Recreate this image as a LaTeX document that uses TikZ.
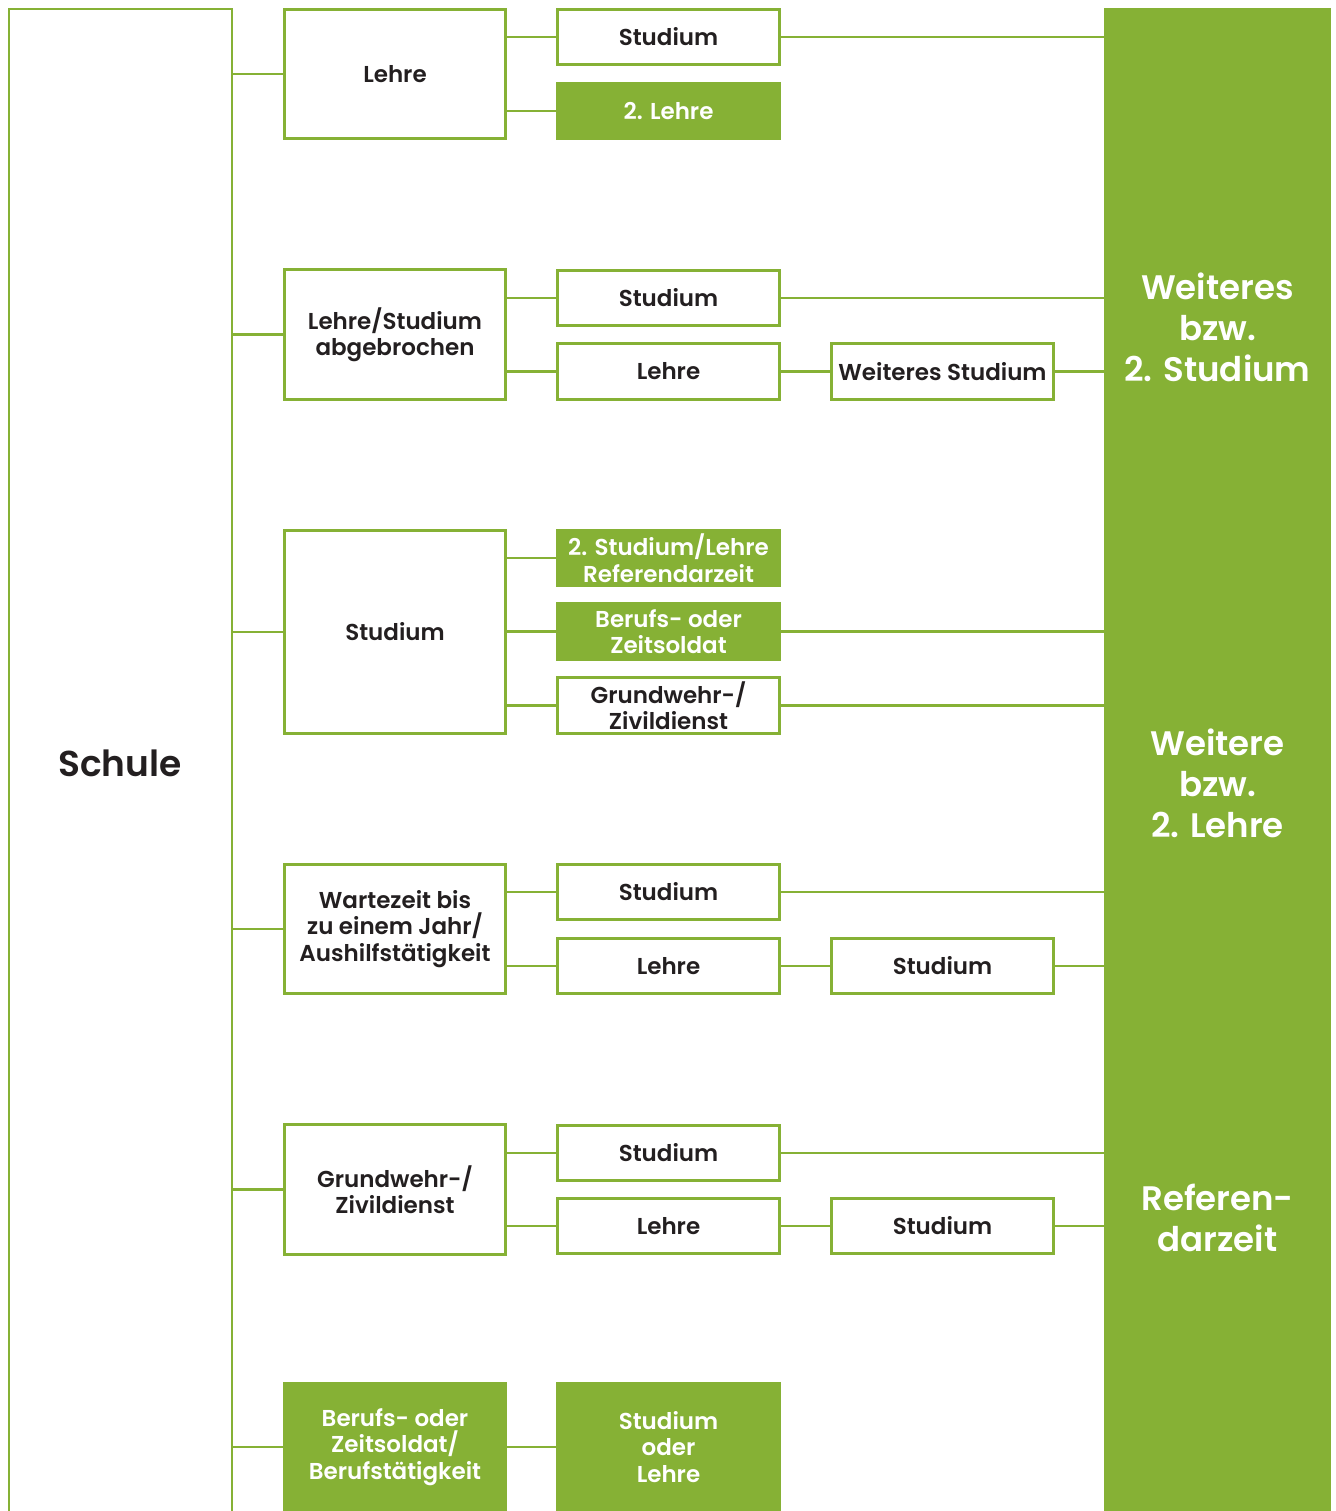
\documentclass[tikz,border=0pt]{standalone}
\usepackage{fontspec}
\setmainfont{Poppins}[BoldFont={* SemiBold}]
\definecolor{laub}{HTML}{86B135}
\definecolor{tinte}{HTML}{231F20}
\tikzset{
  box/.style={draw=laub, line width=1.45pt, fill=white, minimum width=110.6pt,
    minimum height=27.6pt, inner sep=0pt, align=center, text=tinte,
    font=\bfseries\fontsize{11.5}{13.25}\selectfont},
  fullbox/.style={box, fill=laub, text=white},
  tallbox/.style={minimum height=64.6pt},
  link/.style={draw=laub, line width=1.45pt},
  paneltext/.style={align=center, text=white, inner sep=0pt,
    font=\bfseries\fontsize{17}{20.5}\selectfont},
}
\begin{document}
\begin{tikzpicture}[x=0.5pt, y=-0.5pt]
    \useasboundingbox (0,0) rectangle (1336,1511);
    \clip (0,0) rectangle (1336,1511);
    % Schule frame and trunk
    \draw[link] (9,1540) |- (232,9) -- (232,1540);
    \coordinate (trunk) at (232,0);
    \node[text=tinte, font=\bfseries\fontsize{18}{22}\selectfont] (schule) at (120,763) {Schule};
    % green panel on the right
    \node[fill=laub, minimum width=113.5pt, minimum height=770pt, inner sep=0pt, anchor=north west] (panel) at (1104,8) {};
    \node[paneltext] (zielA) at (1217.5,327) {Weiteres\\bzw.\\2. Studium};
    \node[paneltext] (zielB) at (1217.5,783) {Weitere\\bzw.\\2. Lehre};
    \node[paneltext] (zielC) at (1217.5,1218) {Referen-\\darzeit};
    % Lehre
    \node[box, tallbox] (lehre) at (395,74) {Lehre};
    \node[box] (lehreStud) at (668.5,37) {Studium};
    \node[fullbox] (lehreZweit) at (668.5,111) {2. Lehre};
    % abgebrochen
    \node[box, tallbox] (abbr) at (395,334.5) {Lehre/Studium\\abgebrochen};
    \node[box] (abbrStud) at (668.5,298) {Studium};
    \node[box] (abbrLehre) at (668.5,371.5) {Lehre};
    \node[box] (abbrWeit) at (942.5,371.5) {Weiteres Studium};
    % Studium
    \node[box, minimum height=101.6pt] (stud) at (395,632) {Studium};
    \node[fullbox] (studRef) at (668.5,558) {2. Studium/Lehre\\Referendarzeit};
    \node[fullbox] (studSold) at (668.5,631.5) {Berufs- oder\\Zeitsoldat};
    \node[box] (studDienst) at (668.5,705.5) {Grundwehr-/\\Zivildienst};
    % Wartezeit
    \node[box, tallbox] (warte) at (395,929) {Wartezeit bis\\zu einem Jahr/\\Aushilfstätigkeit};
    \node[box] (warteStud) at (668.5,892) {Studium};
    \node[box] (warteLehre) at (668.5,966) {Lehre};
    \node[box] (warteWeit) at (942.5,966) {Studium};
    % Grundwehr-/Zivildienst
    \node[box, tallbox] (dienst) at (395,1189.5) {Grundwehr-/\\Zivildienst};
    \node[box] (dienstStud) at (668.5,1153) {Studium};
    \node[box] (dienstLehre) at (668.5,1226) {Lehre};
    \node[box] (dienstWeit) at (942.5,1226) {Studium};
    % Berufstaetigkeit
    \node[fullbox, minimum height=64pt] (beruf) at (395,1447) {Berufs- oder\\Zeitsoldat/\\Berufstätigkeit};
    \node[fullbox, minimum height=64pt] (berufWeit) at (668.5,1447) {Studium\\oder\\Lehre};
    % trunk to first column
    \foreach \n in {lehre, abbr, stud, warte, dienst, beruf}
        \draw[link] (trunk |- \n.west) -- (\n.west);
    % first to second column
    \foreach \a/\b in {lehre/lehreStud, lehre/lehreZweit, abbr/abbrStud, abbr/abbrLehre,
        stud/studRef, stud/studSold, stud/studDienst, warte/warteStud, warte/warteLehre,
        dienst/dienstStud, dienst/dienstLehre, beruf/berufWeit}
        \draw[link] (\a.east |- \b.west) -- (\b.west);
    % second to third column
    \draw[link] (abbrLehre) -- (abbrWeit);
    \draw[link] (warteLehre) -- (warteWeit);
    \draw[link] (dienstLehre) -- (dienstWeit);
    % into the panel
    \foreach \n in {lehreStud, abbrStud, abbrWeit, studSold, studDienst, warteStud, warteWeit, dienstStud, dienstWeit}
        \draw[link] (\n.east) -- (\n.east -| panel.west);
\end{tikzpicture}
\end{document}
